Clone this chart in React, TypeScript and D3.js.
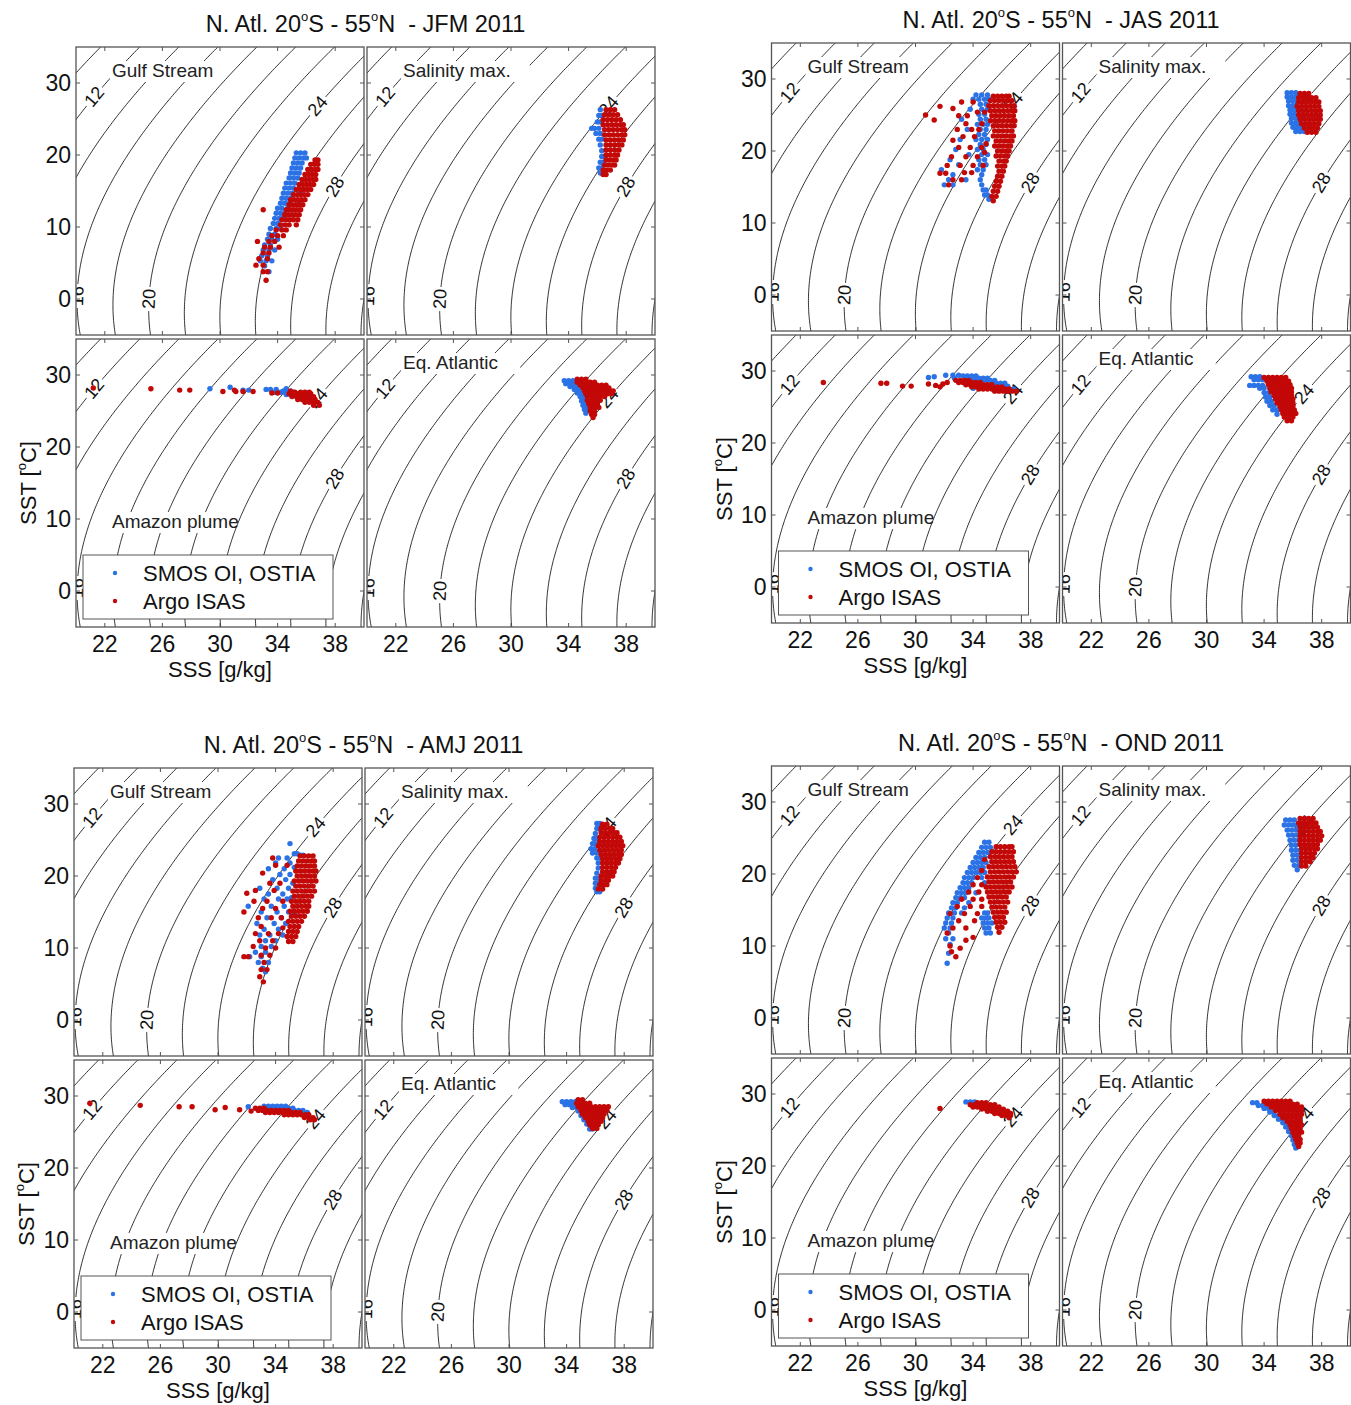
import React from "react";
import * as d3 from "d3";

// ---------- axes / contour definitions ----------
const sssDomain = [20, 40];
const sstDomain = [-5, 35];
const sssTicks = [22, 26, 30, 34, 38];
const sstTicks = [0, 10, 20, 30];
const sigmaLevels = [8, 10, 12, 14, 16, 18, 20, 22, 24, 26, 28, 30, 32, 34];
const labelLevels = [12, 16, 20, 24, 28];
const labelTemps = [28.1, 0.4, 0.0, 26.8, 15.6];

const seasons = ["JFM", "JAS", "AMJ", "OND"];
const regionNames = ["Gulf Stream", "Salinity max.", "Amazon plume", "Eq. Atlantic"];
const legendNames = ["SMOS OI, OSTIA", "Argo ISAS"];
const seriesColors = ["#2a72e6", "#c30808"];

// ---------- data: rows of [SST, SSS, SSS, ...] ----------
// JFM
const jfmGulfSmos = [[20.3,35.3,35.6,35.9],[19.6,35.2,35.5,35.8,36.0],[18.9,35.1,35.4,35.7],[18.2,35.0,35.3,35.6],[17.5,34.9,35.2,35.5],[16.8,34.8,35.1,35.4],[16.1,34.6,34.9,35.2],[15.4,34.5,34.8,35.1],[14.7,34.4,34.7,35.0,35.6],[14.0,34.3,34.6,34.9],[13.3,34.2,34.5,34.8,35.5],[12.6,34.0,34.3,34.7],[11.9,33.9,34.2,34.5],[11.2,33.8,34.1,34.4],[10.5,33.7,34.0],[9.8,33.5,33.9,34.2],[9.0,33.4,33.8],[8.3,33.3,33.6,34.0],[7.5,33.1,33.5],[6.8,33.0,33.4,33.8],[6.0,32.9,33.3],[5.3,32.8,33.2,33.6],[4.6,33.1],[3.8,33.4]];
const jfmGulfArgo = [[19.3,36.6,36.8],[18.7,36.3,36.55,36.8],[18.0,36.1,36.35,36.6,36.8],[17.3,35.9,36.15,36.4,36.65],[16.6,35.7,35.95,36.2,36.45,36.65],[15.9,35.5,35.75,36.0,36.25,36.5],[15.2,35.3,35.55,35.8,36.05,36.3],[14.5,35.1,35.35,35.6,35.85,36.1],[13.8,34.9,35.15,35.4,35.65,35.9],[13.1,34.8,35.0,35.25,35.5,35.75],[12.4,33.0,34.6,34.85,35.1,35.35,35.6],[11.7,34.5,34.75,35.0,35.25,35.5],[11.0,34.3,34.6,34.85,35.1,35.4],[10.3,34.2,34.5,34.8,35.3],[9.6,33.9,34.3,34.6],[8.8,33.6,34.0,34.4],[8.0,32.6,33.4,33.8],[7.2,33.1,33.5,34.1],[6.4,33.0,33.4],[5.6,32.7,33.3],[4.7,32.5,33.0],[3.8,33.0,33.3],[2.6,33.2]];
const jfmSalSmos = [[26.3,36.2],[25.5,36.1,36.3],[24.6,36.0,36.2],[23.7,35.6,35.8,36.1],[23.0,35.9,36.2],[22.2,36.1,36.3],[21.4,36.2],[20.6,36.3],[19.8,36.3,36.5],[19.0,36.2,36.4],[18.2,36.1,36.3],[17.5,36.2,36.4]];
const jfmSalArgo = [[26.3,36.6,36.9,37.2],[25.6,36.5,36.8,37.1,37.4],[24.9,36.4,36.7,37.0,37.3,37.6],[24.2,36.4,36.7,37.0,37.3,37.6,37.8],[23.5,36.5,36.8,37.1,37.4,37.7,37.9],[22.8,36.5,36.8,37.1,37.4,37.7,37.9],[22.1,36.6,36.9,37.2,37.5,37.8],[21.4,36.6,36.9,37.2,37.5,37.7],[20.7,36.6,36.9,37.2,37.5],[20.0,36.6,36.9,37.2,37.4],[19.3,36.6,36.85,37.1,37.3],[18.6,36.5,36.75,37.0,37.2],[17.9,36.4,36.65,36.9],[17.3,36.4,36.6]];
const jfmAmzSmos = [[28.1,29.3],[28.3,30.7],[27.9,31.6,32.0],[28.0,33.2,33.5,33.9],[28.1,34.6],[27.6,33.8,34.2,34.5,34.8,35.1],[27.3,34.6,34.9,35.2],[27.8,34.4,34.7]];
const jfmAmzArgo = [[28.2,21.2],[28.1,25.2],[27.9,27.2,27.9],[27.7,30.2,31.1],[27.9,31.0],[27.7,31.6,32.3],[27.5,33.6,34.0],[27.4,34.8,35.1,35.4,35.7,36.0,36.3],[27.0,35.0,35.3,35.6,35.9,36.2,36.5],[26.6,35.4,35.7,36.0,36.3,36.6],[26.2,35.9,36.2,36.5,36.8],[25.8,36.5,36.9],[27.6,35.2,35.6,35.9,36.2],[27.8,34.9]];
const jfmEqSmos = [[29.2,33.7,34.0,34.3,34.6],[28.8,33.8,34.1,34.4],[28.4,34.1,34.4,34.7],[28.0,34.4,34.7],[27.5,34.6,34.9],[27.0,34.8,35.0,35.9],[26.4,34.9,35.1,36.0],[25.8,35.0,35.2],[25.2,35.1,35.3],[24.7,35.2]];
const jfmEqArgo = [[29.4,34.6,34.9,35.2],[29.0,34.6,34.9,35.2,35.5,35.8],[28.6,34.8,35.1,35.4,35.7,36.0,36.3,36.6],[28.2,35.0,35.3,35.6,35.9,36.2,36.5,36.8],[27.8,35.1,35.4,35.7,36.0,36.3,36.6,36.9,37.1],[27.4,35.2,35.5,35.8,36.1,36.4,36.7,37.0],[27.0,35.3,35.6,35.9,36.2,36.5],[26.5,35.3,35.6,35.9,36.2],[26.0,35.4,35.7,36.0],[25.5,35.5,35.8,36.1],[25.0,35.5,35.8],[24.5,35.6,35.8],[24.1,35.7]];
// JAS
const jasGulfSmos = [[27.8,34.2,34.6,35.0],[27.2,34.0,34.4,34.8,35.1],[26.5,34.5,34.9],[25.8,33.8,34.6,35.0],[25.1,34.4,34.8],[24.4,33.2,34.5,34.9],[23.7,34.3,34.7,35.0],[23.0,33.6,34.5,34.9],[22.3,34.4,34.8],[21.6,33.1,34.2,34.6,35.0],[20.9,34.5,34.9],[20.2,32.8,34.3,34.7],[19.5,33.7,34.6,35.0],[18.8,32.4,34.4,34.8],[18.1,33.0,34.5,34.9],[17.4,31.8,34.3,34.7],[16.7,32.6,34.6],[16.0,32.3,33.5,34.5],[15.3,32.0,32.6,34.6],[14.6,34.7,34.9],[13.9,34.8,35.0],[13.3,35.1]];
const jasGulfArgo = [[27.6,35.4,35.7,36.0,36.3,36.5],[27.0,35.2,35.5,35.8,36.1,36.4,36.7],[26.3,35.1,35.4,35.7,36.0,36.3,36.6,36.85],[25.6,35.2,35.5,35.8,36.1,36.4,36.7,36.9],[24.9,35.3,35.6,35.9,36.2,36.5,36.8],[24.2,35.2,35.5,35.8,36.1,36.4,36.7,36.9],[23.5,35.4,35.7,36.0,36.3,36.6,36.85],[22.8,35.5,35.8,36.1,36.4,36.7],[22.1,35.4,35.7,36.0,36.3,36.6,36.8],[21.4,35.6,35.9,36.2,36.5,36.7],[20.7,35.5,35.8,36.1,36.4,36.6],[20.0,35.7,36.0,36.3,36.5],[19.3,35.6,35.9,36.2,36.4],[18.6,35.8,36.1,36.3],[17.9,35.7,36.0,36.2],[17.2,35.8,36.1],[16.5,35.7,36.0],[15.8,35.6,35.9],[15.1,35.5,35.8],[14.4,35.4,35.7],[13.7,35.3,35.6],[13.1,35.4],[25.0,30.7],[24.3,31.3],[26.2,31.7],[25.9,32.6],[21.5,32.6],[16.9,31.7,32.1],[24.9,33.0,33.6],[23.0,32.9,33.9,34.4],[22.0,33.3,34.1],[20.5,33.0,33.8,34.6],[19.2,32.5,33.5,34.3],[18.0,32.2,33.1,34.0,34.7],[17.0,33.4,33.9],[16.0,32.6,33.2],[15.3,32.3],[26.8,33.2,34.0],[25.4,34.3,34.8],[21.0,34.9],[19.8,34.8],[23.8,33.5,34.6]];
const jasSalSmos = [[28.1,35.6,35.9,36.2],[27.5,35.6,35.9,36.2],[26.9,35.7,36.0,36.3],[26.3,35.7,36.0],[25.7,35.8,36.1,36.4],[25.1,35.8,36.1],[24.5,35.9,36.2,36.5],[23.9,35.9,36.2,36.5],[23.3,36.0,36.3,36.6],[22.7,36.2,36.5,36.8]];
const jasSalArgo = [[28.0,36.5,36.8,37.1],[27.4,36.4,36.7,37.0,37.3,37.6],[26.8,36.4,36.7,37.0,37.3,37.6,37.8],[26.2,36.3,36.6,36.9,37.2,37.5,37.8],[25.6,36.4,36.7,37.0,37.3,37.6,37.9],[25.0,36.4,36.7,37.0,37.3,37.6,37.9],[24.4,36.5,36.8,37.1,37.4,37.7,37.9],[23.8,36.6,36.9,37.2,37.5,37.8],[23.2,36.8,37.1,37.4,37.7],[22.6,37.0,37.3,37.6]];
const jasAmzSmos = [[29.1,30.9],[29.2,31.3],[29.4,32.1,32.6,33.0],[29.3,33.3,33.6,33.9,34.2],[29.0,32.7,33.5,33.8,34.1,34.4,34.7,35.0],[28.7,34.0,34.6,34.9,35.2,35.5],[28.3,35.3,35.6,35.9,36.2],[27.9,35.8,36.1,36.4],[27.5,36.5,36.8],[27.6,34.0]];
const jasAmzArgo = [[28.4,23.6],[28.3,27.6,28.0],[27.9,29.1,29.7],[28.2,30.9],[28.0,31.4],[28.2,31.9],[28.4,32.2],[27.8,31.7],[28.7,32.8,33.1,33.4,33.7],[28.4,33.0,33.3,33.6,33.9,34.2,34.5],[28.1,33.5,33.8,34.1,34.4,34.7,35.0,35.3],[27.8,33.9,34.2,34.5,34.8,35.1,35.4,35.7,36.0],[27.5,34.4,34.7,35.0,35.3,35.6,35.9,36.2,36.5],[27.2,35.5,35.8,36.1,36.4,36.7,37.0]];
const jasEqSmos = [[29.2,33.1,33.4,33.7],[28.8,33.3,33.6,33.9],[28.0,33.0,33.3,33.6,33.9],[27.6,33.7,34.0],[27.0,34.0,34.3],[26.4,34.1,34.4],[25.8,34.2,34.5],[25.2,34.4,34.7],[24.6,34.6,34.9],[24.0,34.9]];
const jasEqArgo = [[29.1,34.0,34.3,34.6,34.9,35.2,35.5],[28.6,34.2,34.5,34.8,35.1,35.4,35.7],[28.1,34.3,34.6,34.9,35.2,35.5,35.8],[27.6,34.4,34.7,35.0,35.3,35.6,35.9],[27.1,34.5,34.8,35.1,35.4,35.7,35.9],[26.6,34.7,35.0,35.3,35.6,35.9],[26.1,34.8,35.1,35.4,35.7,36.0],[25.6,34.9,35.2,35.5,35.8,36.0],[25.1,35.1,35.4,35.7,36.0],[24.6,35.2,35.5,35.8,36.1],[24.1,35.3,35.6,35.9,36.2],[23.6,35.4,35.7,36.0],[23.1,35.6,35.9]];
// AMJ
const amjGulfSmos = [[24.5,35.0],[23.1,35.5,35.3],[22.5,34.2,34.8],[21.8,34.0,35.0],[21.0,33.5,34.6],[20.2,34.3,35.0],[19.5,33.8,34.7],[18.3,32.9,34.1,34.9],[17.5,33.5,34.5],[16.8,33.2,34.2,34.8],[15.8,32.1,33.7,34.6],[15.0,33.0,34.1,34.9],[14.2,33.4,34.4],[13.4,32.7,33.9,34.7],[12.6,33.2,34.2],[11.8,32.9,33.6,34.5],[11.0,33.3,34.0],[10.2,33.0,33.7],[9.4,32.6,33.3],[8.8,32.2,33.0],[8.0,32.8,33.5],[7.2,33.1],[6.7,33.3],[22.9,35.7,35.9],[21.2,35.3],[19.0,35.2],[17.0,35.1],[14.8,35.3]];
const amjGulfArgo = [[22.8,35.7,36.0,36.3,36.6],[22.1,35.6,35.9,36.2,36.5,36.7],[21.4,35.5,35.8,36.1,36.4,36.7],[20.7,35.4,35.7,36.0,36.3,36.6,36.8],[20.0,35.5,35.8,36.1,36.4,36.7],[19.3,35.3,35.6,35.9,36.2,36.5,36.8],[18.6,35.4,35.7,36.0,36.3,36.6],[17.9,35.2,35.5,35.8,36.1,36.4,36.7],[17.2,35.3,35.6,35.9,36.2,36.5],[16.5,35.1,35.4,35.7,36.0,36.3],[15.8,35.2,35.5,35.8,36.1,36.3],[15.1,35.0,35.3,35.6,35.9,36.2],[14.4,35.1,35.4,35.7,36.0],[13.7,34.9,35.2,35.5,35.8],[13.0,35.0,35.3,35.6],[12.3,34.9,35.2,35.5],[11.6,34.8,35.1,35.4],[10.9,34.9,35.2],[15.0,31.8],[17.6,32.0],[20.4,33.1],[13.0,33.0],[8.8,31.8,32.1],[10.2,32.45],[6.0,32.9],[5.3,33.15],[19.0,33.6,34.3],[18.0,32.6,33.9],[16.5,32.5,33.4,34.5],[15.5,33.1,34.0],[14.2,32.8,33.7,34.4],[12.0,32.6,33.5,34.2],[11.0,32.9,33.8],[10.0,33.3,34.0],[9.0,33.0,33.6],[8.0,33.2],[7.0,33.0,33.4],[21.5,34.0,34.8],[22.5,33.8],[12.8,34.5]];
const amjSalSmos = [[27.3,36.1,36.3],[26.6,36.1],[25.9,36.0],[25.2,35.9,36.1],[24.5,35.8,36.0],[23.8,35.7,35.95],[23.2,35.8,36.1],[22.5,36.1,36.3],[21.8,36.2],[21.1,36.2],[20.4,36.1],[19.7,36.0,36.2],[19.0,36.0,36.2],[18.3,36.0],[17.8,36.1,36.3]];
const amjSalArgo = [[27.2,36.5,36.8],[26.6,36.4,36.7,37.0,37.2],[26.0,36.4,36.7,37.0,37.3,37.5],[25.4,36.3,36.6,36.9,37.2,37.5,37.7],[24.8,36.3,36.6,36.9,37.2,37.5,37.8],[24.2,36.2,36.5,36.8,37.1,37.4,37.7,37.9],[23.6,36.3,36.6,36.9,37.2,37.5,37.8],[23.0,36.4,36.7,37.0,37.3,37.6,37.8],[22.4,36.5,36.8,37.1,37.4,37.7],[21.8,36.5,36.8,37.1,37.4,37.6],[21.2,36.5,36.8,37.1,37.4],[20.6,36.5,36.8,37.1,37.3],[20.0,36.4,36.7,37.0,37.2],[19.4,36.4,36.7,36.9],[18.8,36.3,36.6,36.8],[18.2,36.2,36.5]];
const amjAmzSmos = [[28.5,32.1],[28.6,33.2,33.5,33.8,34.1,34.4,34.7],[28.3,33.4,33.7,34.0,34.3,34.6,34.9,35.2],[28.0,35.0,35.3,35.6,35.9],[27.7,35.6,35.9,36.2],[27.3,36.3]];
const amjAmzArgo = [[29.0,21.1],[28.7,24.6],[28.5,27.3],[28.5,28.2],[28.1,29.8],[28.4,30.5],[28.1,31.5],[27.9,32.3],[28.3,32.6,32.9,33.2],[28.0,32.8,33.1,33.4,33.7,34.0,34.3,34.6,34.9],[27.7,33.3,33.6,33.9,34.2,34.5,34.8,35.1,35.4,35.7],[27.4,34.6,34.9,35.2,35.5,35.8,36.1,36.3],[27.0,36.0,36.3,36.6],[26.7,36.4,36.7]];
const amjEqSmos = [[29.2,33.7,34.0,34.3,34.6],[28.8,33.9,34.2,34.5],[28.4,34.4,34.7],[27.9,34.8],[27.3,35.0],[26.7,35.2],[26.1,35.4],[25.4,35.6,35.8]];
const amjEqArgo = [[29.5,34.8,35.1],[29.0,34.7,35.0,35.3,35.6],[28.5,34.8,35.1,35.4,35.7,36.0,36.3,36.6,36.9],[28.0,35.0,35.3,35.6,35.9,36.2,36.5,36.8],[27.5,35.1,35.4,35.7,36.0,36.3,36.6],[27.0,35.3,35.6,35.9,36.2,36.5],[26.5,35.5,35.8,36.1,36.4],[26.0,35.6,35.9,36.2],[25.5,35.8,36.1]];
// OND
const ondGulfSmos = [[24.4,34.8,35.1],[23.7,34.6,34.9,35.2],[23.0,34.4,34.7,35.0],[22.3,34.2,34.5,34.8],[21.6,34.0,34.3,34.6,34.9],[20.9,33.8,34.1,34.4,34.7],[20.2,33.6,33.9,34.2,34.5,34.8],[19.5,33.4,33.7,34.0,34.6],[18.8,33.3,33.6,33.9,34.8],[18.1,33.1,33.4,33.7],[17.4,32.9,33.2,33.5,34.2],[16.7,32.8,33.1,33.4],[16.0,32.6,32.9,33.7],[15.3,32.5,32.8,33.4],[14.6,32.3,32.7,33.2,34.8,35.0],[13.9,32.2,32.6,34.6,34.9,35.1],[13.2,32.1,32.5,34.7,35.0,35.3],[12.5,32.0,32.4,34.8,35.1],[11.8,32.3,34.9,35.2],[11.0,32.1,32.6],[10.2,32.4],[9.0,32.3],[7.6,32.2]];
const ondGulfArgo = [[23.8,35.6,35.9,36.2,36.5,36.7],[23.1,35.3,35.6,35.9,36.2,36.5,36.8],[22.4,35.2,35.5,35.8,36.1,36.4,36.7],[21.7,35.3,35.6,35.9,36.2,36.5,36.8],[21.0,35.1,35.4,35.7,36.0,36.3,36.6,36.9],[20.3,35.2,35.5,35.8,36.1,36.4,36.7,37.0],[19.6,35.0,35.3,35.6,35.9,36.2,36.5,36.8],[18.9,35.1,35.4,35.7,36.0,36.3,36.6],[18.2,34.9,35.2,35.5,35.8,36.1,36.4,36.7],[17.5,35.0,35.3,35.6,35.9,36.2,36.5],[16.8,35.1,35.4,35.7,36.0,36.3],[16.1,35.2,35.5,35.8,36.1,36.4],[15.4,35.3,35.6,35.9,36.2],[14.7,35.4,35.7,36.0,36.3],[14.0,35.5,35.8,36.1],[13.3,35.6,35.9,36.2],[12.6,35.7,36.0],[11.9,35.8],[11.8,32.2],[8.5,32.8],[9.7,33.1],[10.0,32.4],[11.2,34.0],[12.5,32.6,33.5],[13.5,33.0,34.1],[14.5,32.4,33.4,34.3],[15.5,32.9,33.8,34.6],[16.5,33.2,34.0,34.6],[17.5,33.7,34.4],[18.5,34.0,34.6],[19.5,34.3],[20.5,34.6],[22.0,34.8],[10.8,33.5],[9.2,32.5]];
const ondSalSmos = [[27.5,35.5,35.8,36.1],[26.8,35.4,35.7,36.0,36.3],[26.1,35.6,35.9,36.2],[25.4,35.7,36.0,36.3],[24.7,35.8,36.1,36.4],[24.0,35.9,36.2],[23.3,35.9,36.2,36.5],[22.6,36.0,36.3],[21.9,36.0,36.3],[21.2,36.1,36.4],[20.6,36.3]];
const ondSalArgo = [[27.7,36.5,36.8,37.1,37.4],[27.1,36.4,36.7,37.0,37.3,37.6],[26.5,36.5,36.8,37.1,37.4,37.7],[25.9,36.5,36.8,37.1,37.4,37.7,37.9],[25.3,36.5,36.8,37.1,37.4,37.7,38.0],[24.7,36.5,36.8,37.1,37.4,37.7,37.9],[24.1,36.5,36.8,37.1,37.4,37.7],[23.5,36.6,36.9,37.2,37.5,37.7],[22.9,36.6,36.9,37.2,37.5],[22.3,36.6,36.9,37.2,37.4],[21.7,36.6,36.9,37.2],[21.1,36.6,36.9]];
const ondAmzSmos = [[28.9,33.5,33.8,34.1],[28.6,34.4,34.7],[28.3,35.0,35.3]];
const ondAmzArgo = [[28.0,31.7],[28.8,34.3,34.6,34.9],[28.5,33.8,34.1,34.6,34.9,35.2,35.5],[28.2,34.0,34.3,34.6,34.9,35.2,35.5,35.8],[27.9,34.6,34.9,35.2,35.5,35.8,36.1],[27.6,35.0,35.3,35.6,35.9,36.2,36.4],[27.3,35.5,35.8,36.1,36.4,36.6],[27.0,36.0,36.3,36.6],[26.7,36.5]];
const ondEqSmos = [[28.8,33.2,33.5],[28.4,33.6,33.9],[28.0,34.0,34.3],[27.5,34.4,34.7],[27.0,34.7,35.0],[26.5,35.0,35.3],[26.0,35.3,35.5],[25.4,35.5,35.7],[24.8,35.7,35.9],[24.2,35.9],[23.6,36.0],[23.0,36.1],[22.5,36.2]];
const ondEqArgo = [[29.0,34.0,34.3,34.6,34.9,35.2,35.5,35.8],[28.6,34.2,34.5,34.8,35.1,35.4,35.7,36.0,36.3],[28.2,34.5,34.8,35.1,35.4,35.7,36.0,36.3,36.6],[27.7,34.8,35.1,35.4,35.7,36.0,36.3,36.6],[27.2,35.1,35.4,35.7,36.0,36.3,36.6],[26.7,35.3,35.6,35.9,36.2,36.5],[26.2,35.6,35.9,36.2,36.5],[25.7,35.8,36.1,36.4,36.6],[25.2,35.9,36.2,36.5],[24.7,36.0,36.3,36.6],[24.2,36.1,36.4],[23.7,36.2,36.5],[23.2,36.3,36.5],[22.7,36.4]];

const seasonData = [
  [[jfmGulfSmos, jfmGulfArgo], [jfmSalSmos, jfmSalArgo], [jfmAmzSmos, jfmAmzArgo], [jfmEqSmos, jfmEqArgo]],
  [[jasGulfSmos, jasGulfArgo], [jasSalSmos, jasSalArgo], [jasAmzSmos, jasAmzArgo], [jasEqSmos, jasEqArgo]],
  [[amjGulfSmos, amjGulfArgo], [amjSalSmos, amjSalArgo], [amjAmzSmos, amjAmzArgo], [amjEqSmos, amjEqArgo]],
  [[ondGulfSmos, ondGulfArgo], [ondSalSmos, ondSalArgo], [ondAmzSmos, ondAmzArgo], [ondEqSmos, ondEqArgo]],
];

// ---------- layout ----------
const groupOrigins = [
  { x: 76, y: 47 },
  { x: 771.5, y: 43 },
  { x: 74, y: 768 },
  { x: 771.5, y: 766 },
];
const PW = 288, PH = 288, SX = 291, SY = 292;
const FONT = "'Liberation Sans', Arial, Helvetica, sans-serif";

// ---------- seawater density (UNESCO EOS-80, surface) ----------
const SA_TO_SP = 35 / 35.16504;
function sigmaT(SA: number, T: number): number {
  const S = SA * SA_TO_SP;
  const rw = 999.842594 + 6.793952e-2 * T - 9.09529e-3 * T * T + 1.001685e-4 * T ** 3 - 1.120083e-6 * T ** 4 + 6.536332e-9 * T ** 5;
  const A = 8.24493e-1 - 4.0899e-3 * T + 7.6438e-5 * T * T - 8.2467e-7 * T ** 3 + 5.3875e-9 * T ** 4;
  const B = -5.72466e-3 + 1.0227e-4 * T - 1.6546e-6 * T * T;
  const C = 4.8314e-4;
  return rw + A * S + B * Math.pow(S, 1.5) + C * S * S - 1000;
}
function salinityAt(level: number, T: number): number {
  let lo = 0, hi = 60;
  for (let i = 0; i < 50; i++) {
    const mid = (lo + hi) / 2;
    if (sigmaT(mid, T) < level) lo = mid; else hi = mid;
  }
  return (lo + hi) / 2;
}
const contourTemps = d3.range(-6, 36.01, 0.25);

function rowsToPoints(rows: number[][]): [number, number][] {
  const pts: [number, number][] = [];
  rows.forEach((r) => { for (let i = 1; i < r.length; i++) pts.push([r[i], r[0]]); });
  return pts;
}

function Panel({ gi, pi, x0, y0 }: { gi: number; pi: number; x0: number; y0: number }) {
  const xs = d3.scaleLinear().domain(sssDomain).range([x0, x0 + PW]);
  const ys = d3.scaleLinear().domain(sstDomain).range([y0 + PH, y0]);
  const line = d3.line<[number, number]>().x((d) => xs(d[0])).y((d) => ys(d[1]));
  const clipId = `clip-${gi}-${pi}`;
  const data = seasonData[gi][pi];
  const isLeft = pi % 2 === 0;
  const isBottom = pi >= 2;
  const tick = 4;
  return (
    <g>
      <defs>
        <clipPath id={clipId}><rect x={x0} y={y0} width={PW} height={PH} /></clipPath>
      </defs>
      <rect x={x0} y={y0} width={PW} height={PH} fill="#fff" />
      <g clipPath={`url(#${clipId})`}>
        {sigmaLevels.map((lv) => (
          <path key={lv} d={line(contourTemps.map((t) => [salinityAt(lv, t), t] as [number, number])) || ""} fill="none" stroke="#1a1a1a" strokeWidth={0.9} />
        ))}
        {labelLevels.map((lv, i) => {
          const t = labelTemps[i];
          const s = salinityAt(lv, t);
          const px = xs(s), py = ys(t);
          const dx = xs(salinityAt(lv, t + 0.5)) - xs(salinityAt(lv, t - 0.5));
          const dy = ys(t + 0.5) - ys(t - 0.5);
          const ang = (Math.atan2(dy, dx) * 180) / Math.PI;
          return (
            <g key={lv} transform={`translate(${px},${py}) rotate(${ang})`}>
              <rect x={-12} y={-8} width={24} height={16} fill="#fff" />
              <text x={0} y={0} textAnchor="middle" dominantBaseline="central" fontSize={18} fontFamily={FONT} fill="#111">{lv}</text>
            </g>
          );
        })}
      </g>
      {sssTicks.map((v) => (
        <g key={"xt" + v}>
          <line x1={xs(v)} x2={xs(v)} y1={y0 + PH} y2={y0 + PH - tick} stroke="#555" />
          <line x1={xs(v)} x2={xs(v)} y1={y0} y2={y0 + tick} stroke="#555" />
        </g>
      ))}
      {sstTicks.map((v) => (
        <g key={"yt" + v}>
          <line x1={x0} x2={x0 + tick} y1={ys(v)} y2={ys(v)} stroke="#555" />
          <line x1={x0 + PW} x2={x0 + PW - tick} y1={ys(v)} y2={ys(v)} stroke="#555" />
        </g>
      ))}
      {(() => {
        const nm = regionNames[pi];
        const by = pi === 2 ? y0 + 189 : y0 + 30;
        const w = nm.length * 9.6;
        return (
          <g>
            <rect x={x0 + 34} y={by - 16} width={w + 4} height={21} fill="#fff" />
            <text x={x0 + 36} y={by} fontSize={19} fontFamily={FONT} fill="#222">{nm}</text>
          </g>
        );
      })()}
      {pi === 2 && (
        <g>
          <rect x={x0 + 7} y={y0 + 216} width={250} height={64} fill="#fff" stroke="#555" strokeWidth={1} />
          {legendNames.map((nm, k) => (
            <g key={nm}>
              <circle cx={x0 + 39} cy={y0 + 234 + k * 28} r={2.2} fill={seriesColors[k]} />
              <text x={x0 + 67} y={y0 + 242 + k * 28} fontSize={22} fontFamily={FONT} fill="#111">{nm}</text>
            </g>
          ))}
        </g>
      )}
      <g clipPath={`url(#${clipId})`}>
        {data.map((rows, k) =>
          rowsToPoints(rows).map((p, j) => (
            <circle key={k + "-" + j} cx={xs(p[0])} cy={ys(p[1])} r={2.7} fill={seriesColors[k]} />
          ))
        )}
      </g>
      <rect x={x0} y={y0} width={PW} height={PH} fill="none" stroke="#555" strokeWidth={1.3} />
      {isLeft && sstTicks.map((v) => (
        <text key={"yl" + v} x={x0 - 5} y={ys(v) + 8} textAnchor="end" fontSize={23} fontFamily={FONT} fill="#111">{v}</text>
      ))}
      {isBottom && sssTicks.map((v) => (
        <text key={"xl" + v} x={xs(v)} y={y0 + PH + 25} textAnchor="middle" fontSize={23} fontFamily={FONT} fill="#111">{v}</text>
      ))}
      {pi === 2 && (
        <>
          <text x={x0 + PW / 2} y={y0 + PH + 50} textAnchor="middle" fontSize={22} fontFamily={FONT} fill="#111">SSS [g/kg]</text>
          <text transform={`translate(${x0 - 40},${y0 + PH / 2}) rotate(-90)`} textAnchor="middle" fontSize={22} fontFamily={FONT} fill="#111">
            SST [<tspan fontSize={13} dy={-10}>o</tspan><tspan dy={10}>C]</tspan>
          </text>
        </>
      )}
    </g>
  );
}

export default function App() {
  return (
    <svg width={1351} height={1405} style={{ position: "absolute", left: 0, top: 0, background: "#fff" }}>
      <rect x={0} y={0} width={1351} height={1405} fill="#fff" />
      {seasons.map((season, gi) => {
        const o = groupOrigins[gi];
        return (
          <g key={season}>
            <text x={o.x + 289.5} y={o.y - 15} textAnchor="middle" fontSize={23.5} fontFamily={FONT} fill="#111" style={{ whiteSpace: "pre" }}>
              {"N. Atl. 20"}<tspan fontSize={13} dy={-11}>o</tspan><tspan dy={11}>{"S - 55"}</tspan><tspan fontSize={13} dy={-11}>o</tspan><tspan dy={11}>{"N  - " + season + " 2011"}</tspan>
            </text>
            {[0, 1, 2, 3].map((pi) => (
              <Panel key={pi} gi={gi} pi={pi} x0={o.x + (pi % 2) * SX} y0={o.y + Math.floor(pi / 2) * SY} />
            ))}
          </g>
        );
      })}
    </svg>
  );
}
